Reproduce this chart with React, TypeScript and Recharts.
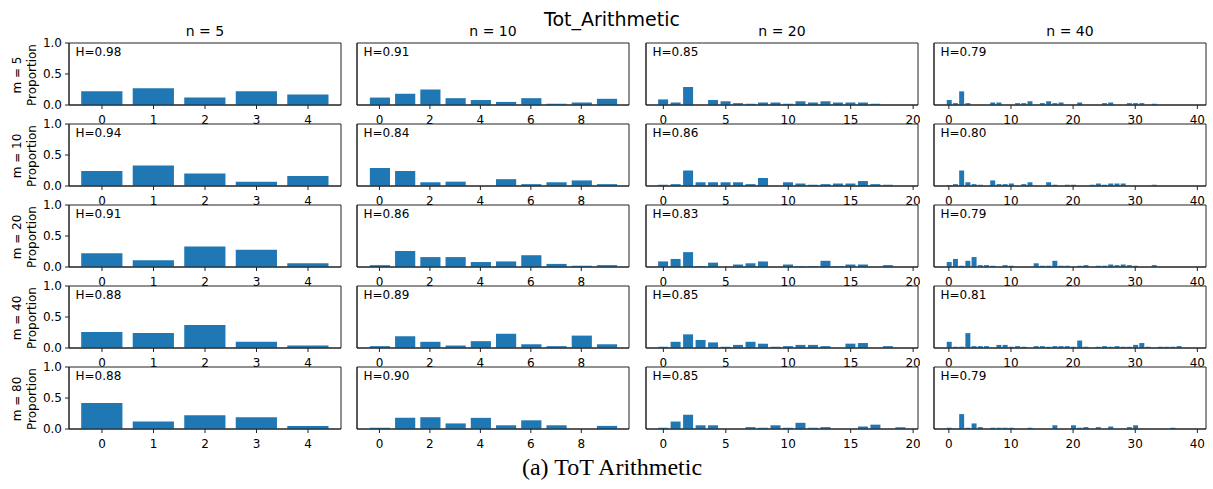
import React from "react";
import { BarChart, Bar, XAxis, YAxis, CartesianGrid, ReferenceArea } from "recharts";

// grid labels
const rowLabels = ["m = 5", "m = 10", "m = 20", "m = 40", "m = 80"];
const colLabels = ["n = 5", "n = 10", "n = 20", "n = 40"];

// x ticks per column
const ticksN5 = [0, 1, 2, 3, 4];
const ticksN10 = [0, 2, 4, 6, 8];
const ticksN20 = [0, 5, 10, 15, 20];
const ticksN40 = [0, 10, 20, 30, 40];
const yTicks = [0, 0.5, 1];

// entropy per panel, one list per column (rows m = 5..80)
const hN5 = [0.98, 0.94, 0.91, 0.88, 0.88];
const hN10 = [0.91, 0.84, 0.86, 0.89, 0.9];
const hN20 = [0.85, 0.86, 0.83, 0.85, 0.85];
const hN40 = [0.79, 0.8, 0.79, 0.81, 0.79];

// proportions, n = 5
const n5m5 = [0.22, 0.27, 0.12, 0.22, 0.17];
const n5m10 = [0.24, 0.33, 0.2, 0.07, 0.16];
const n5m20 = [0.22, 0.11, 0.33, 0.28, 0.06];
const n5m40 = [0.26, 0.24, 0.37, 0.1, 0.04];
const n5m80 = [0.42, 0.12, 0.22, 0.19, 0.05];

// n = 10
const n10m5 = [0.12, 0.18, 0.25, 0.11, 0.08, 0.05, 0.11, 0.02, 0.04, 0.1];
const n10m10 = [0.29, 0.24, 0.06, 0.07, 0, 0.11, 0.03, 0.06, 0.09, 0.03];
const n10m20 = [0.03, 0.26, 0.16, 0.16, 0.08, 0.09, 0.19, 0.05, 0.02, 0.03];
const n10m40 = [0.03, 0.19, 0.1, 0.04, 0.11, 0.23, 0.06, 0.03, 0.2, 0.06];
const n10m80 = [0.02, 0.18, 0.19, 0.09, 0.18, 0.06, 0.14, 0.06, 0, 0.05];

// n = 20
const n20m5 = [0.09, 0.04, 0.29, 0, 0.08, 0.06, 0.03, 0.02, 0.04, 0.04, 0.02, 0.06, 0.04, 0.06, 0.04, 0.04, 0.04, 0.02, 0, 0];
const n20m10 = [0.02, 0.03, 0.25, 0.06, 0.06, 0.06, 0.06, 0.03, 0.13, 0, 0.06, 0.04, 0.02, 0.03, 0.04, 0.04, 0.08, 0.03, 0.02, 0];
const n20m20 = [0.09, 0.13, 0.24, 0.01, 0.07, 0, 0.04, 0.06, 0.09, 0, 0.04, 0.01, 0.01, 0.1, 0.01, 0.04, 0.04, 0, 0.03, 0];
const n20m40 = [0.02, 0.1, 0.22, 0.13, 0.09, 0.02, 0.05, 0.1, 0.07, 0.02, 0.03, 0.05, 0.05, 0.03, 0, 0.07, 0.08, 0, 0.03, 0];
const n20m80 = [0.02, 0.12, 0.23, 0.06, 0.06, 0, 0, 0.03, 0.02, 0.06, 0.02, 0.1, 0.02, 0.03, 0, 0, 0.04, 0.07, 0, 0.03];

// n = 40
const n40m5 = [
  0.08, 0.03, 0.22, 0.03, 0, 0, 0, 0.04, 0.04, 0,
  0, 0.03, 0.03, 0.06, 0, 0.03, 0.06, 0.03, 0.04, 0,
  0, 0.04, 0, 0, 0, 0.03, 0.04, 0, 0, 0.03,
  0.03, 0.03, 0, 0.02, 0, 0, 0, 0, 0, 0,
];
const n40m10 = [
  0.01, 0.03, 0.25, 0.06, 0.03, 0.02, 0, 0.09, 0.03, 0.03,
  0.04, 0, 0.03, 0.06, 0, 0, 0.06, 0.02, 0, 0.02,
  0.02, 0, 0, 0.02, 0.04, 0.02, 0.04, 0.04, 0.04, 0,
  0, 0, 0, 0.02, 0, 0, 0, 0, 0, 0,
];
const n40m20 = [
  0.08, 0.13, 0.02, 0.1, 0.16, 0.03, 0.03, 0.02, 0, 0.03,
  0.02, 0, 0, 0, 0.06, 0.02, 0.02, 0.1, 0.02, 0.02,
  0, 0.02, 0.03, 0, 0.02, 0.02, 0.04, 0.03, 0.04, 0.03,
  0.02, 0, 0, 0.03, 0, 0, 0, 0, 0, 0,
];
const n40m40 = [
  0.1, 0.02, 0.02, 0.24, 0.03, 0.03, 0.03, 0, 0.05, 0.05,
  0.02, 0.03, 0.02, 0, 0.03, 0.03, 0.02, 0.03, 0.03, 0.03,
  0.02, 0.12, 0.02, 0, 0.02, 0.03, 0.02, 0.03, 0.02, 0.02,
  0.05, 0.08, 0.02, 0, 0.02, 0.02, 0.02, 0.03, 0, 0,
];
const n40m80 = [
  0.02, 0, 0.24, 0.02, 0.09, 0.03, 0, 0.02, 0.02, 0.02,
  0.02, 0, 0, 0.02, 0, 0, 0, 0.06, 0, 0,
  0.06, 0.02, 0.03, 0, 0.03, 0, 0.04, 0, 0, 0.03,
  0.06, 0, 0, 0, 0, 0, 0.02, 0, 0, 0,
];

const columns = [
  { ticks: ticksN5, h: hN5, rows: [n5m5, n5m10, n5m20, n5m40, n5m80] },
  { ticks: ticksN10, h: hN10, rows: [n10m5, n10m10, n10m20, n10m40, n10m80] },
  { ticks: ticksN20, h: hN20, rows: [n20m5, n20m10, n20m20, n20m40, n20m80] },
  { ticks: ticksN40, h: hN40, rows: [n40m5, n40m10, n40m20, n40m40, n40m80] },
];

const PLOT_W = 272;
const PLOT_H = 62;
const TOP_M = 8;
const colLeft = [69, 357, 646, 934];
const rowTop = [43, 124, 205, 286, 367];
const FONT = "DejaVu Sans";
const AXIS = "#222";

function Panel({ values, ticks, h, showY, left, top }: any) {
  const data = values.map((p: number, i: number) => ({ x: i, p }));
  // matplotlib-like 5% margins around bars of width 0.8
  const pad = 0.05 * (values.length - 1 + 0.8);
  const domain = [-0.4 - pad, values.length - 1 + 0.4 + pad];
  const barSize = (0.8 * PLOT_W) / (domain[1] - domain[0]);
  const yW = showY ? 40 : 6;
  const tickStyle = { fill: "#000", fontSize: 12, fontFamily: FONT };

  return (
    <div style={{ position: "absolute", left: left - yW, top: top - TOP_M }}>
      <BarChart
        width={yW + PLOT_W + 2}
        height={TOP_M + PLOT_H + 30}
        data={data}
        margin={{ top: TOP_M, right: 2, left: 0, bottom: 0 }}
      >
        <CartesianGrid horizontal={false} vertical={false} fill="#fff" />
        <XAxis
          dataKey="x"
          type="number"
          domain={domain}
          ticks={ticks}
          interval={0}
          allowDataOverflow
          height={30}
          tickSize={4}
          tickMargin={6}
          stroke={AXIS}
          tick={tickStyle}
        />
        <YAxis
          type="number"
          domain={[0, 1]}
          ticks={yTicks}
          interval={0}
          width={yW}
          tickSize={4}
          tickMargin={3}
          stroke={AXIS}
          tick={showY ? tickStyle : false}
          tickFormatter={(v: number) => v.toFixed(1)}
        />
        <Bar dataKey="p" fill="#1f77b4" barSize={barSize} isAnimationActive={false} />
        <ReferenceArea
          x1={domain[0]}
          x2={domain[1]}
          y1={0}
          y2={1}
          fill="none"
          fillOpacity={0}
          stroke={AXIS}
          strokeWidth={1}
          ifOverflow="visible"
        />
      </BarChart>
      <div
        style={{
          position: "absolute",
          left: yW + 6.5,
          top: TOP_M + 3.2,
          fontSize: 12,
          lineHeight: "12px",
          fontFamily: FONT,
          color: "#000",
          whiteSpace: "nowrap",
        }}
      >
        H={h.toFixed(2)}
      </div>
    </div>
  );
}

export default function App() {
  return (
    <div
      style={{
        position: "absolute",
        left: 0,
        top: 0,
        width: 1213,
        height: 489,
        background: "#fff",
        overflow: "hidden",
      }}
    >
      <div
        style={{
          position: "absolute",
          left: 0,
          width: 1224,
          top: 10,
          textAlign: "center",
          fontSize: 19,
          lineHeight: "19px",
          fontFamily: FONT,
        }}
      >
        Tot_Arithmetic
      </div>
      {colLabels.map((t, c) => (
        <div
          key={t}
          style={{
            position: "absolute",
            left: colLeft[c],
            width: PLOT_W,
            top: 24,
            textAlign: "center",
            fontSize: 14,
            lineHeight: "14px",
            fontFamily: FONT,
          }}
        >
          {t}
        </div>
      ))}
      {rowTop.map((top, r) =>
        columns.map((col, c) => (
          <Panel
            key={`${r}-${c}`}
            values={col.rows[r]}
            ticks={col.ticks}
            h={col.h[r]}
            showY={c === 0}
            left={colLeft[c]}
            top={top}
          />
        ))
      )}
      {rowLabels.map((t, r) => (
        <div
          key={t}
          style={{
            position: "absolute",
            left: 24.5,
            top: rowTop[r] + 32,
            transform: "translate(-50%, -50%) rotate(-90deg)",
            fontSize: 12,
            lineHeight: "15px",
            fontFamily: FONT,
            textAlign: "center",
            whiteSpace: "pre",
          }}
        >
          {t + "\nProportion"}
        </div>
      ))}
      <div
        style={{
          position: "absolute",
          left: 0,
          width: 1224,
          top: 455,
          textAlign: "center",
          fontSize: 24,
          lineHeight: "24px",
          fontFamily: "Liberation Serif",
        }}
      >
        (a) ToT Arithmetic
      </div>
    </div>
  );
}
